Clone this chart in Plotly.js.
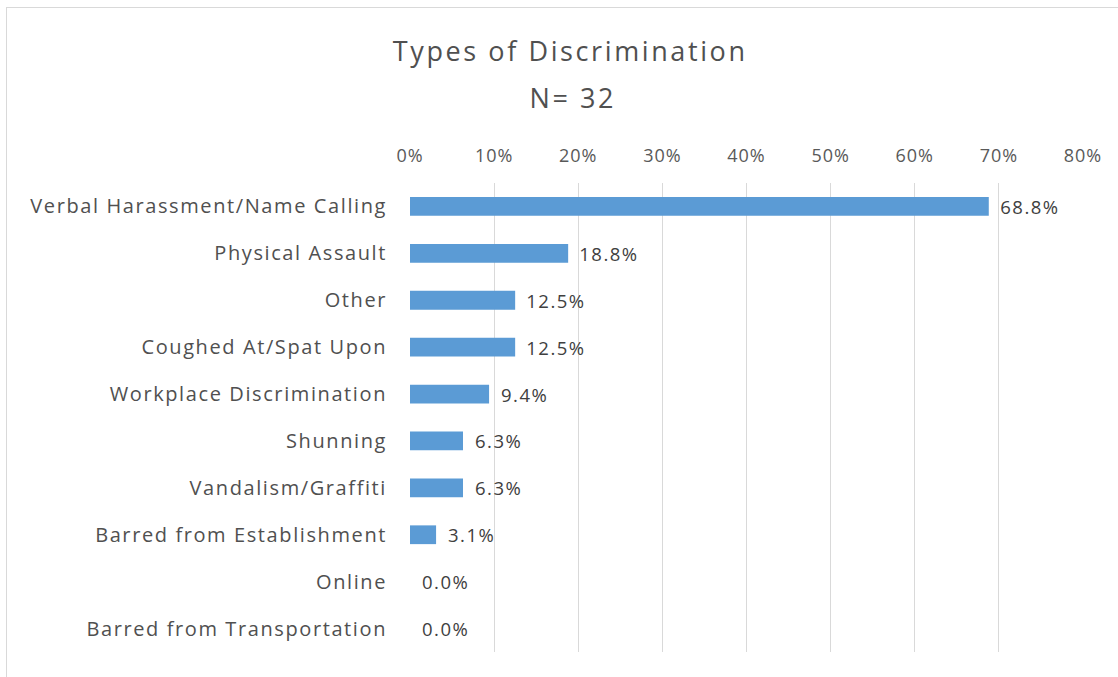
<!DOCTYPE html>
<html><head><meta charset="utf-8">
<script src="https://cdn.plot.ly/plotly-3.0.1.min.js"></script>
<style>
html,body{margin:0;padding:0;background:#fff;overflow:hidden;}
#frame{position:absolute;left:6px;top:7px;width:1200px;height:800px;border:1px solid #d9d9d9;pointer-events:none;}
#chart{position:absolute;left:0;top:0;width:1118px;height:677px;}
#chart .ytick text{letter-spacing:1.6px;}
#chart .xtick text{letter-spacing:1px;}
#chart .gtitle{letter-spacing:2.6px;}
#chart .annotation text{letter-spacing:1.5px;}
#chart .annotation[data-index="0"] text{letter-spacing:2.6px;}
</style></head>
<body>
<div id="chart"></div>
<div id="frame"></div>
<script>
const categories = ["Verbal Harassment/Name Calling","Physical Assault","Other","Coughed At/Spat Upon","Workplace Discrimination","Shunning","Vandalism/Graffiti","Barred from Establishment","Online","Barred from Transportation"];
const values = [0.688,0.188,0.125,0.125,0.094,0.063,0.063,0.031,0.0,0.0];
const tickVals = [0,0.1,0.2,0.3,0.4,0.5,0.6,0.7,0.8];
const tickText = ["0%","10%","20%","30%","40%","50%","60%","70%","80%"];
const titleText = "Types of Discrimination";
const subtitleText = "N= 32";
const FONT = "Open Sans, sans-serif";

const trace = {
  type:'bar', orientation:'h', x:values, y:categories,
  marker:{color:'#5B9BD5'}, hoverinfo:'none'
};
const annotations = [{
  x:0.242, y:1.183, xref:'paper', yref:'paper', text:subtitleText, showarrow:false,
  xanchor:'center', yanchor:'middle', font:{family:FONT,size:27,color:'#505050'}
}].concat(values.map((v,i)=>({
  x:v, y:categories[i], xref:'x', yref:'y', text:(v*100).toFixed(1)+'%',
  showarrow:false, xanchor:'left', xshift:13, font:{family:FONT,size:18.5,color:'#404040'}
})));
const layout = {
  width:1118, height:677,
  margin:{l:410, r:35, t:183, b:25},
  paper_bgcolor:'rgba(0,0,0,0)', plot_bgcolor:'#fff',
  title:{text:titleText, x:0.51, xanchor:'center', y:0.924, yanchor:'middle',
    font:{family:FONT,size:27,color:'#505050'}},
  bargap:0.6,
  showlegend:false,
  xaxis:{side:'top', range:[0,0.8], tickvals:tickVals, ticktext:tickText,
    showgrid:true, gridcolor:'#d9d9d9', gridwidth:1, zeroline:false, showline:false,
    ticks:'', ticklabelstandoff:16,
    tickfont:{family:FONT,size:18,color:'#595959'}, fixedrange:true},
  yaxis:{autorange:'reversed', type:'category', showgrid:false, zeroline:false, showline:false,
    ticks:'', ticklabelstandoff:22, tickfont:{family:FONT,size:20,color:'#505050'}},
  annotations:annotations
};
Plotly.newPlot('chart',[trace],layout,{displayModeBar:false,staticPlot:true});
</script>
</body></html>
